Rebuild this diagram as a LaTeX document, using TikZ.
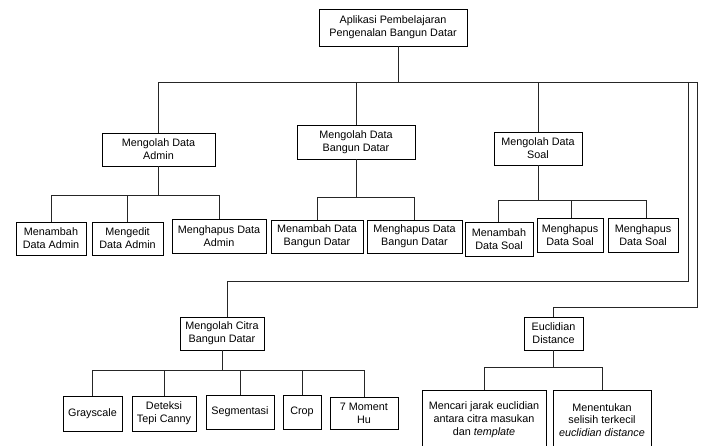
\documentclass[tikz,border=0pt]{standalone}
\usepackage{fontspec}
\setmainfont{Liberation Sans}
\begin{document}
\begin{tikzpicture}[x=1pt,y=-1pt,
  box/.style={draw=black,line width=0.9pt,fill=white,align=center,inner sep=0pt,
    font=\fontsize{10.8}{12.8}\selectfont},
  wire/.style={draw=black!85,line width=0.9pt}]
\useasboundingbox (0,0) rectangle (705,446);
\clip (0,0) rectangle (705,446);
% nodes
\node[box,minimum width=148,minimum height=37] (top) at (393,27.5) {Aplikasi Pembelajaran\\Pengenalan Bangun Datar};
\node[box,minimum width=113,minimum height=33] (admin) at (158.5,149.5) {Mengolah Data\\Admin};
\node[box,minimum width=118,minimum height=34] (bd) at (356,142) {Mengolah Data\\Bangun Datar};
\node[box,minimum width=88,minimum height=33] (soal) at (538,148.5) {Mengolah Data\\Soal};
\node[box,minimum width=70,minimum height=33] (a1) at (51,238.5) {Menambah\\Data Admin};
\node[box,minimum width=71,minimum height=33] (a2) at (127.5,238.5) {Mengedit\\Data Admin};
\node[box,minimum width=94,minimum height=34] (a3) at (219,236) {Menghapus Data\\Admin};
\node[box,minimum width=92,minimum height=33] (b1) at (317,236.5) {Menambah Data\\Bangun Datar};
\node[box,minimum width=95,minimum height=33] (b2) at (414.5,236.5) {Menghapus Data\\Bangun Datar};
\node[box,minimum width=68,minimum height=34] (s1) at (499,239) {Menambah\\Data Soal};
\node[box,minimum width=66,minimum height=34] (s2) at (570,235) {Menghapus\\Data Soal};
\node[box,minimum width=70,minimum height=34] (s3) at (643,235) {Menghapus\\Data Soal};
\node[box,minimum width=84,minimum height=33] (citra) at (222,333.5) {Mengolah Citra\\Bangun Datar};
\node[box,minimum width=59,minimum height=33] (euc) at (553.5,333.5) {Euclidian\\Distance};
\node[box,minimum width=59,minimum height=35] (c1) at (92.5,413.5) {Grayscale};
\node[box,minimum width=64,minimum height=35] (c2) at (164,413.5) {Deteksi\\Tepi Canny};
\node[box,minimum width=68,minimum height=34] (c3) at (240,412) {Segmentasi};
\node[box,minimum width=38,minimum height=34] (c4) at (302,412) {Crop};
\node[box,minimum width=68,minimum height=32] (c5) at (364,413) {7 Moment\\Hu};
\node[box,minimum width=124,minimum height=60] (e1) at (484,420) {Mencari jarak euclidian\\antara citra masukan\\dan \textit{template}};
\node[box,minimum width=98,minimum height=60] (e2) at (602,420) {Menentukan\\selisih terkecil\\\textit{euclidian distance}};
% bus coordinates
\coordinate (mainbus) at (0,82);
\coordinate (abus) at (0,195);
\coordinate (bbus) at (0,197);
\coordinate (sbus) at (0,200);
\coordinate (cbus) at (0,370);
\coordinate (ebus) at (0,367);
\coordinate (r1) at (688,82);
\coordinate (r2) at (697,82);
\coordinate (r1b) at (688,281);
\coordinate (r2b) at (697,307);
\coordinate (toptrunk) at ([xshift=5pt]top.south);
\coordinate (citratop) at ([xshift=5pt]citra.north);
\coordinate (s1top) at ([xshift=-1pt]s1.north);
\coordinate (s2top) at ([xshift=1pt]s2.north);
\coordinate (s3top) at ([xshift=3pt]s3.north);
% top level
\draw[wire] (toptrunk) -- (toptrunk |- mainbus);
\draw[wire] (admin.north) -- (admin.north |- mainbus) -- (r2);
\draw[wire] (bd.north) -- (bd.north |- mainbus);
\draw[wire] (soal.north) -- (soal.north |- mainbus);
\draw[wire] (r1) -- (r1b) -| (citratop);
\draw[wire] (r2) -- (r2b) -| (euc.north);
% admin
\draw[wire] (admin.south) -- (admin.south |- abus);
\draw[wire] (a1.north) |- (abus -| a3.north) -- (a3.north);
\draw[wire] (a2.north) -- (a2.north |- abus);
% bangun datar
\draw[wire] (bd.south) -- (bd.south |- bbus);
\draw[wire] (b1.north) |- (bbus -| b2.north) -- (b2.north);
% soal
\draw[wire] (soal.south) -- (soal.south |- sbus);
\draw[wire] (s1top) |- (sbus -| s3top) -- (s3top);
\draw[wire] (s2top) -- (s2top |- sbus);
% citra
\draw[wire] (citra.south) -- (citra.south |- cbus);
\draw[wire] (c1.north) |- (cbus -| c5.north) -- (c5.north);
\draw[wire] (c2.north) -- (c2.north |- cbus);
\draw[wire] (c3.north) -- (c3.north |- cbus);
\draw[wire] (c4.north) -- (c4.north |- cbus);
% euclidian
\draw[wire] (euc.south) -- (euc.south |- ebus);
\draw[wire] (e1.north) |- (ebus -| e2.north) -- (e2.north);
\end{tikzpicture}
\end{document}
